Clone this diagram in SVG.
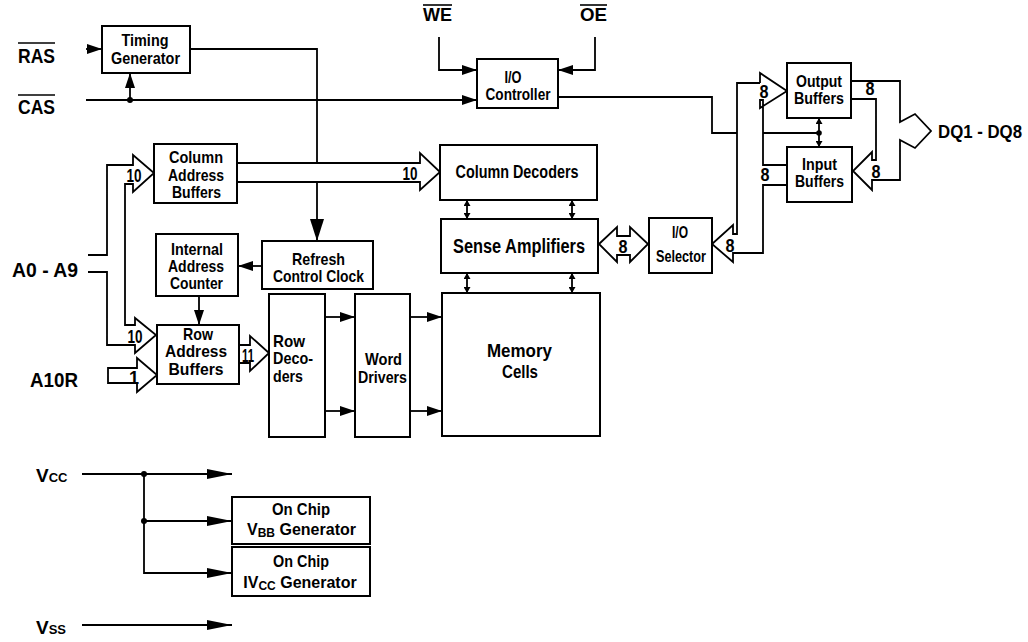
<svg xmlns="http://www.w3.org/2000/svg" width="1028" height="642" viewBox="0 0 1028 642">
<style>
  .box{fill:#fff;stroke:#000;stroke-width:2}
  .ln{fill:none;stroke:#000;stroke-width:1.8}
  .bus{fill:#fff;stroke:#000;stroke-width:1.8;stroke-linejoin:miter}
  .t{font-family:"Liberation Sans",Arial,sans-serif;font-weight:bold;font-size:17px;text-anchor:middle;fill:#000}
  .tl{font-family:"Liberation Sans",Arial,sans-serif;font-weight:bold;font-size:17px;text-anchor:start;fill:#000}
  .big{font-size:19px}
  .pin{font-family:"Liberation Sans",Arial,sans-serif;font-weight:bold;font-size:20px;text-anchor:start;fill:#000}
  .num{font-family:"Liberation Sans",Arial,sans-serif;font-weight:bold;font-size:18px;text-anchor:middle;fill:#000}
  .ov{stroke:#000;stroke-width:1.6}
</style>
<defs>
  <marker id="a" markerUnits="userSpaceOnUse" markerWidth="15" markerHeight="10" viewBox="0 0 15 10" refX="15" refY="5" orient="auto"><path d="M0,0 L15,5 L0,10 z" fill="#000"/></marker>
  <marker id="ab" markerUnits="userSpaceOnUse" markerWidth="22" markerHeight="14" viewBox="0 0 22 14" refX="22" refY="7" orient="auto"><path d="M0,0 L22,7 L0,14 z" fill="#000"/></marker>
  <marker id="av" markerUnits="userSpaceOnUse" markerWidth="25" markerHeight="10" viewBox="0 0 25 10" refX="25" refY="5" orient="auto"><path d="M0,0 L25,5 L0,10 z" fill="#000"/></marker>
  <marker id="as" markerUnits="userSpaceOnUse" markerWidth="6" markerHeight="7" viewBox="0 0 6 7" refX="6" refY="3.5" orient="auto-start-reverse"><path d="M0,0 L6,3.5 L0,7 z" fill="#000"/></marker>
</defs>

<g id="connectors">
  <line class="ln" x1="86" y1="49" x2="102" y2="49" marker-end="url(#a)"/>
  <line class="ln" x1="86" y1="100" x2="477" y2="100" marker-end="url(#a)"/>
  <line class="ln" x1="130" y1="100" x2="130" y2="73" marker-end="url(#a)"/>
  <circle cx="130" cy="100" r="3" fill="#000"/>
  <polyline class="ln" points="190,49 317,49 317,241" marker-end="url(#ab)"/>
  <polyline class="ln" points="439,37 439,70 477,70" marker-end="url(#a)"/>
  <polyline class="ln" points="595,37 595,70 558,70" marker-end="url(#a)"/>
  <polyline class="ln" points="558,97 712,97 712,133 737,133"/>
  <line class="ln" x1="763" y1="133" x2="819" y2="133"/>
  <circle cx="819" cy="133" r="2.8" fill="#000"/>
  <line class="ln" x1="819" y1="133" x2="819" y2="118" marker-end="url(#as)"/>
  <line class="ln" x1="819" y1="133" x2="819" y2="147" marker-end="url(#as)"/>
  <line class="ln" x1="467" y1="200" x2="467" y2="219" marker-start="url(#as)" marker-end="url(#as)"/>
  <line class="ln" x1="572" y1="200" x2="572" y2="219" marker-start="url(#as)" marker-end="url(#as)"/>
  <line class="ln" x1="467" y1="273" x2="467" y2="293" marker-start="url(#as)" marker-end="url(#as)"/>
  <line class="ln" x1="572" y1="273" x2="572" y2="293" marker-start="url(#as)" marker-end="url(#as)"/>
  <line class="ln" x1="262" y1="266" x2="238" y2="266" marker-end="url(#a)"/>
  <line class="ln" x1="199" y1="296" x2="199" y2="325" marker-end="url(#a)"/>
  <line class="ln" x1="325" y1="317" x2="355" y2="317" marker-end="url(#a)"/>
  <line class="ln" x1="325" y1="411" x2="355" y2="411" marker-end="url(#a)"/>
  <line class="ln" x1="410" y1="317" x2="442" y2="317" marker-end="url(#a)"/>
  <line class="ln" x1="410" y1="411" x2="442" y2="411" marker-end="url(#a)"/>
  <line class="ln" x1="82" y1="474" x2="232" y2="474" marker-end="url(#av)"/>
  <polyline class="ln" points="144,474 144,573 232,573" marker-end="url(#av)"/>
  <line class="ln" x1="144" y1="521" x2="232" y2="521" marker-end="url(#av)"/>
  <circle cx="144" cy="474" r="3" fill="#000"/>
  <circle cx="144" cy="521" r="3" fill="#000"/>
  <line class="ln" x1="82" y1="625" x2="232" y2="625" marker-end="url(#av)"/>

  <path class="bus" d="M237,163 H420 V153 L440,172 L420,190 V182 H237"/>
  <path class="ln" d="M88,255 H107 V165 H133 V155 L154,173 L133,192 V184 H125 V325 H135 V318 L156,335 L135,353 V345 H107 V272 H88"/>
  <path class="bus" d="M108,368 H137 V358 L157,375 L137,392 V383 H108 Z"/>
  <path class="bus" d="M239,345 H250 V336 L269,353 L250,371 V363 H239"/>
  <path class="bus" d="M599,244 L617,227 V236 H630 V227 L648,244 L630,262 V255 H617 V262 Z"/>
  <path class="ln" d="M760,83 V73 L787,91 L760,108 V100 H763 V165 H787"/>
  <path class="ln" d="M787,185 H763 V253 H733 V262 L712,244 L733,225 V234 H737 V83 H760"/>
  <path class="ln" d="M851,99 H876 V160 H872 V152 L853,171 L872,190 V180 H900 V140 L915,148 L931,131 L915,114 L900,122 V81 H851"/>

  <text class="num" x="410" y="180" textLength="15" lengthAdjust="spacingAndGlyphs">10</text>
  <text class="num" x="134" y="182" textLength="15" lengthAdjust="spacingAndGlyphs">10</text>
  <text class="num" x="135" y="343" textLength="15" lengthAdjust="spacingAndGlyphs">10</text>
  <text class="num" x="134" y="384">1</text>
  <text class="num" x="248" y="362" textLength="12" lengthAdjust="spacingAndGlyphs">11</text>
  <text class="num" x="623" y="253" textLength="9" lengthAdjust="spacingAndGlyphs">8</text>
  <text class="num" x="730" y="252" textLength="9" lengthAdjust="spacingAndGlyphs">8</text>
  <text class="num" x="764" y="98" textLength="9" lengthAdjust="spacingAndGlyphs">8</text>
  <text class="num" x="765" y="181" textLength="9" lengthAdjust="spacingAndGlyphs">8</text>
  <text class="num" x="870" y="95" textLength="9" lengthAdjust="spacingAndGlyphs">8</text>
  <text class="num" x="876" y="178" textLength="9" lengthAdjust="spacingAndGlyphs">8</text>
</g>

<g id="pins">
  <text class="pin" x="18" y="63" textLength="37" lengthAdjust="spacingAndGlyphs">RAS</text>
  <line class="ov" x1="18" y1="43" x2="55" y2="43"/>
  <text class="pin" x="18" y="114" textLength="37" lengthAdjust="spacingAndGlyphs">CAS</text>
  <line class="ov" x1="18" y1="95" x2="55" y2="95"/>
  <text class="pin" x="423" y="21" style="font-size:18px" textLength="29" lengthAdjust="spacingAndGlyphs">WE</text>
  <line class="ov" x1="423" y1="5" x2="452" y2="5"/>
  <text class="pin" x="580" y="21" style="font-size:18px" textLength="27" lengthAdjust="spacingAndGlyphs">OE</text>
  <line class="ov" x1="580" y1="5" x2="607" y2="5"/>
  <text class="pin" x="12" y="277" style="font-size:21px" textLength="66" lengthAdjust="spacingAndGlyphs">A0 - A9</text>
  <text class="pin" x="30" y="387" style="font-size:21px" textLength="48" lengthAdjust="spacingAndGlyphs">A10R</text>
  <text class="pin" x="938" y="138" style="font-size:18px" textLength="84" lengthAdjust="spacingAndGlyphs">DQ1 - DQ8</text>
  <text class="pin" x="36" y="482" style="font-size:19px">V<tspan style="font-size:13px">CC</tspan></text>
  <text class="pin" x="36" y="634" style="font-size:19px">V<tspan style="font-size:13px">SS</tspan></text>
</g>

<g id="timing-generator">
  <rect class="box" x="102" y="26" width="88" height="47"/>
  <text class="t" x="145" y="46" textLength="47" lengthAdjust="spacingAndGlyphs">Timing</text>
  <text class="t" x="145.5" y="64" textLength="69" lengthAdjust="spacingAndGlyphs">Generator</text>
</g>
<g id="column-address-buffers">
  <rect class="box" x="154" y="144" width="83" height="59"/>
  <text class="t" x="196" y="163" textLength="54" lengthAdjust="spacingAndGlyphs">Column</text>
  <text class="t" x="196" y="181" textLength="56" lengthAdjust="spacingAndGlyphs">Address</text>
  <text class="t" x="196.5" y="198" textLength="49" lengthAdjust="spacingAndGlyphs">Buffers</text>
</g>
<g id="io-controller">
  <rect class="box" x="477" y="59" width="81" height="49"/>
  <text class="t" x="513" y="83" textLength="17" lengthAdjust="spacingAndGlyphs">I/O</text>
  <text class="t" x="518" y="100" textLength="65" lengthAdjust="spacingAndGlyphs">Controller</text>
</g>
<g id="column-decoders">
  <rect class="box" x="440" y="145" width="157" height="55"/>
  <text class="t big" x="517" y="178" textLength="123" lengthAdjust="spacingAndGlyphs">Column Decoders</text>
</g>
<g id="sense-amplifiers">
  <rect class="box" x="441" y="219" width="157" height="54"/>
  <text class="t" x="519" y="253" style="font-size:20px" textLength="132" lengthAdjust="spacingAndGlyphs">Sense Amplifiers</text>
</g>
<g id="memory-cells">
  <rect class="box" x="442" y="293" width="158" height="143"/>
  <text class="t big" x="519.5" y="357" textLength="65" lengthAdjust="spacingAndGlyphs">Memory</text>
  <text class="t big" x="520" y="378" textLength="36" lengthAdjust="spacingAndGlyphs">Cells</text>
</g>
<g id="io-selector">
  <rect class="box" x="649" y="218" width="63" height="55"/>
  <text class="t" x="680" y="238" textLength="16" lengthAdjust="spacingAndGlyphs">I/O</text>
  <text class="t" x="681" y="262" textLength="50" lengthAdjust="spacingAndGlyphs">Selector</text>
</g>
<g id="output-buffers">
  <rect class="box" x="787" y="63" width="64" height="55"/>
  <text class="t" x="819" y="87" textLength="46" lengthAdjust="spacingAndGlyphs">Output</text>
  <text class="t" x="819" y="104" textLength="50" lengthAdjust="spacingAndGlyphs">Buffers</text>
</g>
<g id="input-buffers">
  <rect class="box" x="787" y="147" width="65" height="55"/>
  <text class="t" x="819.5" y="170" textLength="35" lengthAdjust="spacingAndGlyphs">Input</text>
  <text class="t" x="819.5" y="187" textLength="49" lengthAdjust="spacingAndGlyphs">Buffers</text>
</g>
<g id="internal-address-counter">
  <rect class="box" x="156" y="234" width="82" height="62"/>
  <text class="t" x="197" y="255" textLength="52" lengthAdjust="spacingAndGlyphs">Internal</text>
  <text class="t" x="196" y="272" textLength="56" lengthAdjust="spacingAndGlyphs">Address</text>
  <text class="t" x="196.5" y="289" textLength="53" lengthAdjust="spacingAndGlyphs">Counter</text>
</g>
<g id="refresh-control-clock">
  <rect class="box" x="262" y="241" width="111" height="48"/>
  <text class="t" x="318.5" y="265" textLength="53" lengthAdjust="spacingAndGlyphs">Refresh</text>
  <text class="t" x="318.5" y="282" textLength="91" lengthAdjust="spacingAndGlyphs">Control Clock</text>
</g>
<g id="row-address-buffers">
  <rect class="box" x="157" y="325" width="82" height="59"/>
  <text class="t" x="198" y="340" textLength="30" lengthAdjust="spacingAndGlyphs">Row</text>
  <text class="t" x="196" y="357" textLength="62" lengthAdjust="spacingAndGlyphs">Address</text>
  <text class="t" x="196" y="375" textLength="55" lengthAdjust="spacingAndGlyphs">Buffers</text>
</g>
<g id="row-decoders">
  <rect class="box" x="269" y="294" width="56" height="143"/>
  <text class="tl" x="273" y="347" textLength="32" lengthAdjust="spacingAndGlyphs">Row</text>
  <text class="tl" x="273" y="364" textLength="40" lengthAdjust="spacingAndGlyphs">Deco-</text>
  <text class="tl" x="273" y="382" textLength="30" lengthAdjust="spacingAndGlyphs">ders</text>
</g>
<g id="word-drivers">
  <rect class="box" x="355" y="294" width="55" height="143"/>
  <text class="t" x="383.5" y="365" textLength="37" lengthAdjust="spacingAndGlyphs">Word</text>
  <text class="t" x="382.5" y="383" textLength="49" lengthAdjust="spacingAndGlyphs">Drivers</text>
</g>
<g id="vbb-generator">
  <rect class="box" x="232" y="497" width="138" height="47"/>
  <text class="t" x="301" y="515" textLength="58" lengthAdjust="spacingAndGlyphs">On Chip</text>
  <text class="t" x="301.5" y="535" style="font-size:16px">V<tspan style="font-size:12px" dy="2">BB</tspan><tspan dy="-2"> Generator</tspan></text>
</g>
<g id="ivcc-generator">
  <rect class="box" x="232" y="547" width="138" height="49"/>
  <text class="t" x="301" y="567" textLength="56" lengthAdjust="spacingAndGlyphs">On Chip</text>
  <text class="t" x="300" y="588" style="font-size:16px">IV<tspan style="font-size:12px" dy="2">CC</tspan><tspan dy="-2"> Generator</tspan></text>
</g>
</svg>
